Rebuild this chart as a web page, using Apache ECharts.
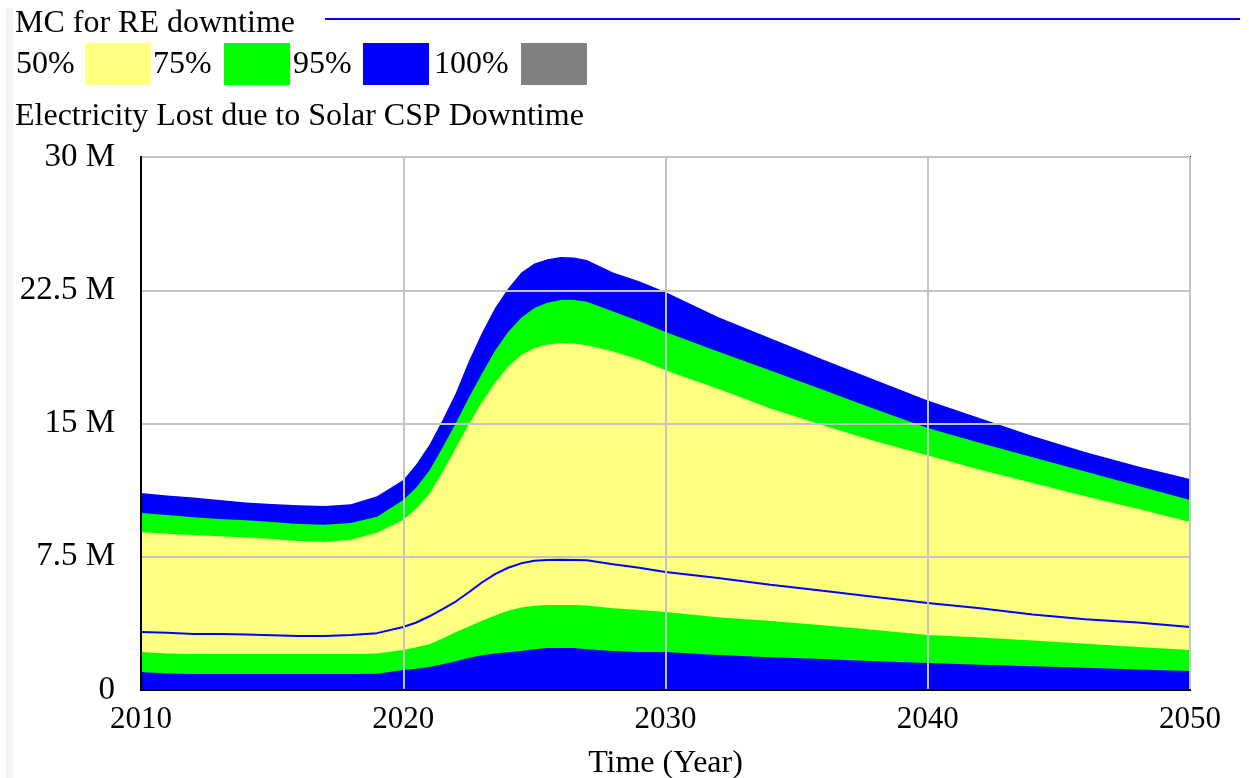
<!DOCTYPE html>
<html>
<head>
<meta charset="utf-8">
<script src="https://cdn.jsdelivr.net/npm/echarts@6/dist/echarts.min.js"></script>
<style>
html,body{margin:0;padding:0;background:#fff;}
#c{width:1249px;height:778px;}
</style>
</head>
<body>
<div id="c"></div>
<script>
const years = [2010,2011,2012,2013,2014,2015,2016,2017,2018,2019,2020,2020.5,2021,2021.5,2022,2022.5,2023,2023.5,2024,2024.5,2025,2025.5,2026,2026.5,2027,2028,2029,2030,2032,2034,2036,2038,2040,2042,2044,2046,2048,2050];
// values in millions
const upper95 = [11.09,10.95,10.83,10.7,10.56,10.47,10.4,10.36,10.45,10.9,11.82,12.7,13.8,15.2,16.7,18.5,20.1,21.5,22.6,23.5,24.0,24.25,24.37,24.35,24.2,23.5,23.0,22.4,21.0,19.8,18.6,17.45,16.3,15.3,14.3,13.4,12.6,11.88];
const upper75 = [9.96,9.85,9.72,9.63,9.55,9.46,9.35,9.3,9.4,9.75,10.7,11.4,12.35,13.65,15.0,16.45,17.8,19.1,20.15,20.95,21.5,21.8,21.95,21.95,21.85,21.3,20.75,20.15,19.05,17.98,16.9,15.8,14.75,13.9,13.1,12.3,11.5,10.7];
const upper50 = [8.9,8.8,8.72,8.65,8.58,8.5,8.38,8.33,8.45,8.85,9.57,10.2,11.05,12.25,13.6,14.95,16.2,17.3,18.2,18.85,19.25,19.45,19.53,19.5,19.4,19.05,18.6,18.0,16.95,15.85,14.9,14.0,13.2,12.4,11.65,10.9,10.2,9.46];
const baseRun = [3.27,3.22,3.15,3.15,3.12,3.08,3.04,3.04,3.1,3.2,3.55,3.8,4.15,4.55,4.98,5.5,6.05,6.52,6.88,7.13,7.27,7.32,7.33,7.32,7.3,7.08,6.88,6.64,6.3,5.93,5.58,5.24,4.9,4.6,4.25,3.98,3.8,3.55];
const lower50 = [2.14,2.05,2.03,2.03,2.03,2.03,2.03,2.03,2.03,2.05,2.25,2.4,2.58,2.9,3.25,3.57,3.9,4.2,4.46,4.64,4.74,4.78,4.78,4.78,4.75,4.6,4.5,4.39,4.1,3.88,3.65,3.38,3.1,2.95,2.78,2.6,2.42,2.25];
const lower75 = [1.01,0.93,0.9,0.9,0.9,0.9,0.9,0.9,0.9,0.92,1.13,1.2,1.3,1.45,1.62,1.8,1.95,2.05,2.12,2.2,2.3,2.36,2.36,2.36,2.3,2.2,2.14,2.14,1.97,1.85,1.75,1.62,1.52,1.42,1.33,1.25,1.15,1.07];
const yTicks = [0, 7.5, 15, 22.5, 30];
const xTicks = [2010, 2020, 2030, 2040, 2050];
const legendLabels = ['50%', '75%', '95%', '100%'];
const legendColors = ['#ffff80', '#00ff00', '#0000ff', '#808080'];

const M = 1e6;
const pairs = arr => years.map((y, i) => [y, arr[i] * M]);
const FONT = '"Liberation Serif", "DejaVu Serif", serif';

function band(name, arr, color) {
  return {
    name: name, type: 'line', data: pairs(arr), symbol: 'none',
    lineStyle: {width: 0}, areaStyle: {color: color, opacity: 1},
    itemStyle: {color: color}, silent: true, animation: false
  };
}

const legendX = [16, 153, 293, 434];
const swatchX = [85, 224, 363, 521];
const graphics = [
  {type: 'rect', shape: {x: 6, y: 8, width: 7, height: 770}, style: {fill: '#f1f4fa'}},
  {type: 'text', style: {x: 15, y: 24, text: 'MC for RE downtime', font: '32px ' + FONT, fill: '#000', verticalAlign: 'middle'}},
  {type: 'line', shape: {x1: 325, y1: 19, x2: 1240, y2: 19}, style: {stroke: '#0000ff', lineWidth: 2}},
  {type: 'text', style: {x: 15, y: 117, text: 'Electricity Lost due to Solar CSP Downtime', font: '32px ' + FONT, fill: '#000', verticalAlign: 'middle'}}
];
legendLabels.forEach((t, i) => {
  graphics.push({type: 'text', style: {x: legendX[i], y: 65, text: t, font: '32px ' + FONT, fill: '#000', verticalAlign: 'middle'}});
  graphics.push({type: 'rect', shape: {x: swatchX[i], y: 43, width: 66, height: 42}, style: {fill: legendColors[i]}});
});

const chart = echarts.init(document.getElementById('c'), null, {renderer: 'canvas'});
chart.setOption({
  animation: false,
  backgroundColor: '#fff',
  grid: {left: 141, right: 59, top: 157, bottom: 88, show: true, borderColor: '#000', borderWidth: 2,
    backgroundColor: '#fff', z: 0, containLabel: false, outerBoundsMode: 'none'},
  xAxis: {
    type: 'value', min: xTicks[0], max: xTicks[xTicks.length - 1], interval: 10, z: 5,
    name: 'Time (Year)', nameLocation: 'middle', nameGap: 58,
    nameTextStyle: {fontFamily: FONT, fontSize: 32, color: '#000'},
    axisLine: {show: true, lineStyle: {color: '#000', width: 2}},
    axisTick: {show: false},
    axisLabel: {fontFamily: FONT, fontSize: 31, color: '#000', margin: 14, formatter: v => String(v)},
    splitLine: {show: true, lineStyle: {color: '#c4c4c4', width: 2}}
  },
  yAxis: {
    type: 'value', min: yTicks[0] * M, max: yTicks[yTicks.length - 1] * M, interval: 7.5 * M, z: 5,
    axisLine: {show: true, lineStyle: {color: '#000', width: 2}},
    axisTick: {show: false},
    axisLabel: {fontFamily: FONT, fontSize: 33, color: '#000', margin: 26, padding: [6, 0, 0, 0],
      formatter: v => v === 0 ? '0' : (v / M) + ' M'},
    splitLine: {show: true, lineStyle: {color: '#c4c4c4', width: 2}}
  },
  graphic: graphics,
  series: [
    band('95% upper', upper95, '#0000ff'),
    band('75% upper', upper75, '#00ff00'),
    band('50% upper', upper50, '#ffff80'),
    band('50% lower', lower50, '#00ff00'),
    band('75% lower', lower75, '#0000ff'),
    {name: 'MC for RE downtime', type: 'line', data: pairs(baseRun), symbol: 'none',
     lineStyle: {color: '#0000ff', width: 2}, z: 4, silent: true}
  ]
});
</script>
</body>
</html>
